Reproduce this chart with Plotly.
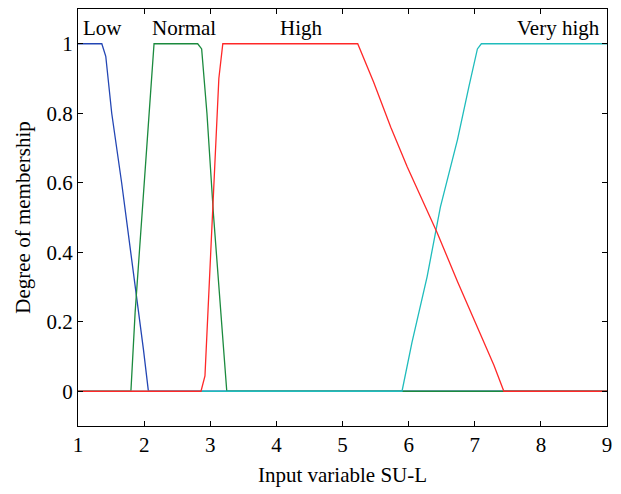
import plotly.graph_objects as go

low_x = [1, 1.36, 1.42, 1.51, 1.66, 1.79, 1.89, 1.99, 2.065, 9]
low_y = [1, 1, 0.964, 0.80, 0.60, 0.41, 0.274, 0.12, 0, 0]

normal_x = [1, 1.80, 1.864, 1.965, 2.065, 2.15, 2.81, 2.87, 2.95, 3.05, 3.15, 3.25, 9]
normal_y = [0, 0, 0.227, 0.515, 0.77, 1, 1, 0.985, 0.80, 0.505, 0.245, 0, 0]

high_x = [1, 2.86, 2.92, 3.0, 3.09, 3.13, 3.19, 5.23, 5.47, 5.73, 5.98, 6.43, 6.74, 7.04, 7.29, 7.44, 9]
high_y = [0, 0, 0.044, 0.37, 0.755, 0.9, 1, 1, 0.89, 0.76, 0.645, 0.457, 0.315, 0.185, 0.075, 0, 0]

vhigh_x = [1, 5.90, 6.05, 6.28, 6.48, 6.74, 6.91, 7.04, 7.10, 9]
vhigh_y = [0, 0, 0.14, 0.33, 0.53, 0.725, 0.875, 0.985, 1, 1]

labels = ["Low", "Normal", "High", "Very high"]
label_x = [1.04, 2.6, 4.38, 8.93]
label_y = [1.045, 1.045, 1.045, 1.045]
label_anchor = ["left", "center", "center", "right"]

x_ticks = [1, 2, 3, 4, 5, 6, 7, 8, 9]
y_ticks = [0, 0.2, 0.4, 0.6, 0.8, 1]
y_tick_text = ["0", "0.2", "0.4", "0.6", "0.8", "1"]

FONT = "Liberation Serif"
FS = 21

fig = go.Figure()
series = [
    (low_x, low_y, "#2346b4"),
    (normal_x, normal_y, "#1b8a3e"),
    (vhigh_x, vhigh_y, "#1fbcbc"),
    (high_x, high_y, "#ff2828"),
]
for xs, ys, col in series:
    fig.add_trace(go.Scatter(x=xs, y=ys, mode="lines",
                             line=dict(color=col, width=1.3),
                             showlegend=False, hoverinfo="skip"))

for t, x, y, a in zip(labels, label_x, label_y, label_anchor):
    fig.add_annotation(x=x, y=y, text=t, showarrow=False, xanchor=a,
                       yanchor="middle", font=dict(family=FONT, size=FS, color="black"))

axis_common = dict(showline=True, linecolor="black", linewidth=1.3, mirror="allticks",
                   ticks="inside", ticklen=5, tickcolor="black", tickwidth=1.2,
                   showgrid=False, zeroline=False, automargin=False,
                   tickfont=dict(family=FONT, size=FS, color="black"))

fig.update_layout(
    width=613, height=486,
    margin=dict(l=70, r=14, t=1, b=68),
    plot_bgcolor="white", paper_bgcolor="white",
    xaxis=dict(range=[1, 9], tickvals=x_ticks,
               title=dict(text="Input variable SU-L", font=dict(family=FONT, size=FS, color="black"), standoff=10),
               **axis_common),
    yaxis=dict(range=[-0.1, 1.1], tickvals=y_ticks, ticktext=y_tick_text,
               title=dict(text="Degree of membership", font=dict(family=FONT, size=FS, color="black"), standoff=10),
               **axis_common),
)

fig.write_html("out.html")
